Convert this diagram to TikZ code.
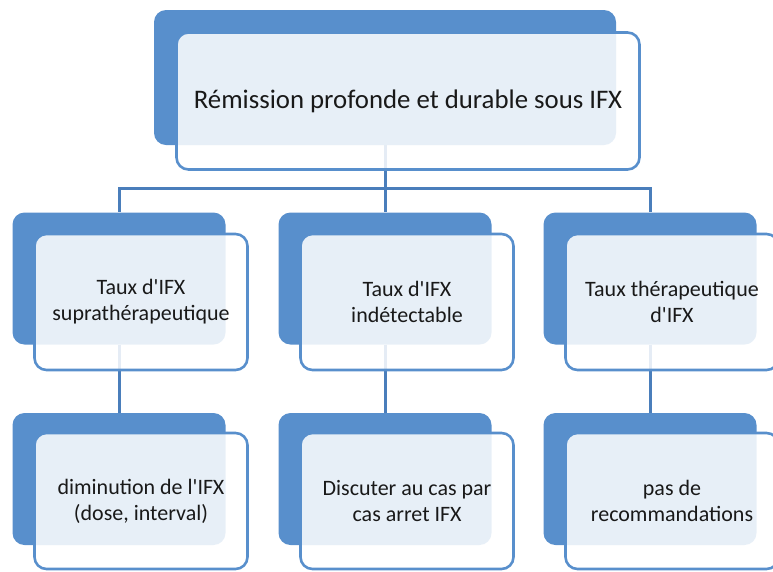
\documentclass[tikz,border=0pt]{standalone}
\usepackage{fontspec}
\setmainfont{Carlito}
\usetikzlibrary{backgrounds}
\definecolor{bleufond}{RGB}{88,143,204}
\definecolor{bleulien}{RGB}{74,126,187}
\definecolor{texte}{RGB}{25,25,25}
\newcommand{\apos}{\textquotesingle}
\begin{document}
\begin{tikzpicture}[
                x=1pt, y=-1pt,
                fondbox/.style={
                    fill=bleufond,
                    draw=none,
                    rectangle,
                    rounded corners=12pt,
                    minimum width=213pt,
                    minimum height=132pt
                },
                cadrebox/.style={
                    draw=bleufond,
                    line width=2.6pt,
                    fill=white,
                    fill opacity=0.86,
                    text opacity=1,
                    text=texte,
                    rectangle,
                    rounded corners=12pt,
                    minimum width=213pt,
                    minimum height=136pt,
                    align=center,
                    font=\fontsize{22}{26}\selectfont
                },
                grandfond/.style={
                    fondbox,
                    minimum width=462pt,
                    minimum height=135pt
                },
                grandcadre/.style={
                    cadrebox,
                    minimum width=463pt,
                    minimum height=137pt,
                    font=\fontsize{26.8}{32}\selectfont
                },
                lien/.style={
                    draw=bleulien,
                    line width=3pt
                }
            ]
                \clip (0,0) rectangle (773,571);

                % racine
                \node[grandfond]  (fond0)   at (385,77.5) {};
                \node[grandcadre] (racine)  at (408,101)  {Rémission profonde et durable sous IFX};

                % niveau 2
                \node[fondbox]  (fond1) at (119,278.5) {};
                \node[cadrebox] (taux1) at (141,302)   {Taux d\apos IFX\\supra\-thérapeutique};
                \node[fondbox]  (fond2) at (385,278.5) {};
                \node[cadrebox] (taux2) at (407,302)   {Taux d\apos IFX\\indétectable};
                \node[fondbox]  (fond3) at (650,278.5) {};
                \node[cadrebox] (taux3) at (672,302)   {Taux thérapeutique\\d\apos IFX};

                % niveau 3
                \node[fondbox]  (fond4) at (119,479)   {};
                \node[cadrebox] (action1) at (141,501) {diminution de l\apos IFX\\(dose, interval)};
                \node[fondbox]  (fond5) at (385,479)   {};
                \node[cadrebox] (action2) at (407,501) {Discuter au cas par\\cas arret IFX};
                \node[fondbox]  (fond6) at (650,479)   {};
                \node[cadrebox] (action3) at (672,501) {pas de\\recommandations};

                \coordinate (bus) at (385,188);

                \begin{scope}[on background layer]
                    \draw[lien] (fond0) -- (bus);
                    \draw[lien] (bus) -| (fond1);
                    \draw[lien] (bus) -- (fond2);
                    \draw[lien] (bus) -| (fond3);
                    \draw[lien] (fond1) -- (fond4);
                    \draw[lien] (fond2) -- (fond5);
                    \draw[lien] (fond3) -- (fond6);
                \end{scope}
        \end{tikzpicture}
\end{document}
